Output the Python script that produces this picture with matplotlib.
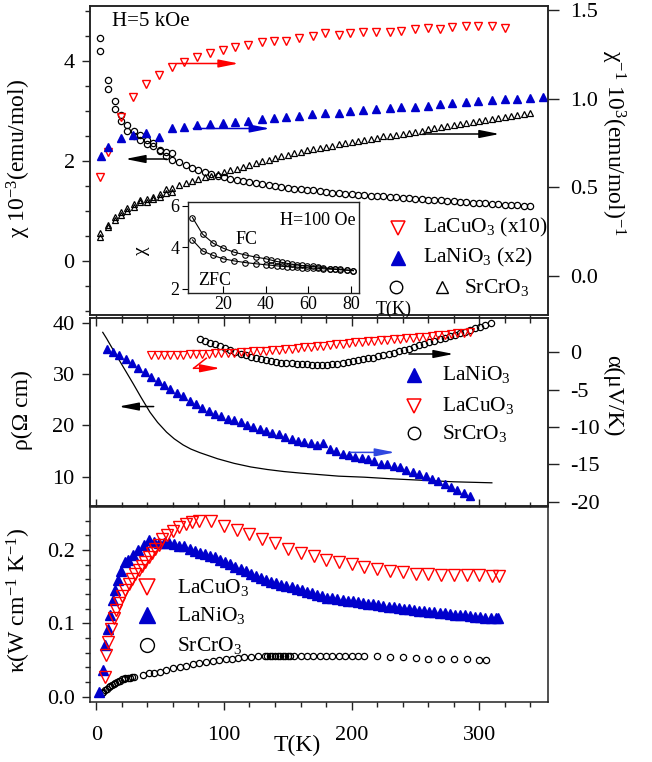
import matplotlib
matplotlib.use('Agg')
import matplotlib.pyplot as plt
from matplotlib.ticker import MultipleLocator, FormatStrFormatter

plt.rcParams['font.family'] = ['Liberation Serif', 'DejaVu Serif']
plt.rcParams['mathtext.fontset'] = 'custom'
plt.rcParams['mathtext.rm'] = 'Liberation Serif'
plt.rcParams['mathtext.it'] = 'Liberation Serif:italic'
plt.rcParams['mathtext.bf'] = 'Liberation Serif:bold'
plt.rcParams['axes.unicode_minus'] = False

RED = '#ff0000'
BLUE = '#0000cc'

# ---------------- top panel: susceptibility ----------------
# SrCrO3 chi (left axis, 10^-3 emu/mol), two branches at low T
chi_T_lo = [3.1, 9.1, 14.3, 19.3, 24.3, 29.2, 34.5, 39.7, 44.4, 49.6, 54.6, 59.3]
chi_a = [4.45, 3.62, 3.19, 2.92, 2.72, 2.60, 2.52, 2.42, 2.35, 2.22, 2.17, 2.15]
chi_b = [4.19, 3.43, 3.03, 2.79, 2.60, 2.49, 2.42, 2.33, 2.29, 2.19, 2.10, 2.02]
chi_T_hi = [65, 70, 75, 80, 85, 90, 95, 100, 105, 110, 115, 120, 125, 130, 135, 140,
            145, 150, 155, 160, 165, 170, 175, 180, 185, 190, 195, 200, 205, 210, 215,
            220, 225, 230, 235, 240, 245, 250, 255, 260, 265, 270, 275, 280, 285, 290,
            295, 300, 305, 310, 315, 320, 325, 330, 335, 340]
chi_hi = [1.97, 1.91, 1.85, 1.81, 1.77, 1.74, 1.70, 1.67, 1.64, 1.62, 1.59, 1.58, 1.56,
          1.54, 1.52, 1.50, 1.48, 1.46, 1.44, 1.43, 1.42, 1.41, 1.39, 1.38, 1.36, 1.35,
          1.34, 1.33, 1.32, 1.31, 1.30, 1.30, 1.29, 1.28, 1.27, 1.26, 1.25, 1.24, 1.23,
          1.22, 1.21, 1.21, 1.20, 1.19, 1.18, 1.17, 1.16, 1.16, 1.15, 1.14, 1.13, 1.12,
          1.12, 1.11, 1.10, 1.09]

# SrCrO3 1/chi (right axis)
inv_T_lo = chi_T_lo
inv_sr_a = [0.240, 0.288, 0.331, 0.359, 0.382, 0.406, 0.429, 0.432, 0.447, 0.461, 0.489, 0.498]
inv_sr_b = [0.220, 0.275, 0.316, 0.344, 0.368, 0.391, 0.415, 0.419, 0.434, 0.447, 0.470, 0.476]
inv_T_hi = chi_T_hi
inv_sr_hi = [0.515, 0.527, 0.537, 0.548, 0.557, 0.566, 0.576, 0.585, 0.596, 0.606, 0.616,
             0.626, 0.636, 0.646, 0.656, 0.666, 0.676, 0.684, 0.693, 0.700, 0.708, 0.715,
             0.722, 0.729, 0.736, 0.743, 0.750, 0.757, 0.763, 0.769, 0.775, 0.781, 0.787,
             0.792, 0.797, 0.803, 0.809, 0.814, 0.820, 0.827, 0.833, 0.839, 0.846, 0.852,
             0.858, 0.864, 0.870, 0.876, 0.882, 0.888, 0.894, 0.899, 0.905, 0.910, 0.914,
             0.918]

# LaCuO3 (x10) 1/chi
cu_T = [3, 9, 19, 29, 39, 49, 59, 69, 79, 89, 99, 109, 119, 130, 139, 149, 159, 170,
        179, 190, 199, 209, 219, 230, 239, 250, 260, 269, 279, 290, 299, 310, 320]
cu_inv = [0.56, 0.70, 0.895, 1.011, 1.081, 1.134, 1.18, 1.209, 1.233, 1.26, 1.275,
          1.293, 1.303, 1.321, 1.325, 1.327, 1.34, 1.355, 1.37, 1.36, 1.372, 1.374,
          1.374, 1.378, 1.384, 1.391, 1.397, 1.391, 1.403, 1.41, 1.41, 1.41, 1.397]

# LaNiO3 (x2) 1/chi
ni_T = [4, 9, 19, 29, 39, 49, 59, 69, 79, 89, 99, 109, 119, 130, 139, 149, 159, 169,
        179, 190, 199, 209, 219, 230, 239, 250, 260, 269, 279, 290, 299, 310, 320, 330,
        340, 350]
ni_inv = [0.679, 0.729, 0.777, 0.795, 0.805, 0.786, 0.833, 0.842, 0.852, 0.857, 0.861,
          0.867, 0.876, 0.886, 0.893, 0.899, 0.904, 0.912, 0.918, 0.921, 0.931, 0.936,
          0.940, 0.946, 0.951, 0.955, 0.959, 0.968, 0.977, 0.983, 0.987, 0.993, 0.997,
          1.000, 1.004, 1.008]

# inset: SrCrO3 at H=100 Oe
ins_T = [5.8, 10.5, 15.5, 20.2, 25.2, 30.3, 35.5, 40.2, 42.5, 45.2, 47.5, 50, 52.5,
         54.6, 57, 59.5, 62.3, 64.5, 67, 70.2, 72.5, 75, 78, 81.1]
ins_fc = [5.43, 4.63, 4.19, 3.95, 3.76, 3.63, 3.52, 3.44, 3.38, 3.31, 3.27, 3.22, 3.18,
          3.15, 3.12, 3.10, 3.07, 3.04, 3.01, 2.97, 2.95, 2.93, 2.90, 2.87]
ins_zfc = [4.35, 3.82, 3.60, 3.44, 3.34, 3.26, 3.20, 3.15, 3.13, 3.10, 3.08, 3.06, 3.05,
           3.04, 3.02, 3.01, 2.99, 2.98, 2.96, 2.94, 2.93, 2.91, 2.89, 2.87]

# ---------------- middle panel: resistivity / thermopower ----------------
rho_T = [5, 8, 11, 15, 19, 24, 29, 35, 42, 48, 55, 61, 68, 74, 81, 95, 108, 121, 134,
         147, 160, 175, 190, 210, 230, 255, 280, 310]
rho = [38.2, 37.0, 35.7, 34.0, 32.3, 30.2, 28.1, 25.5, 22.6, 20.6, 18.7, 17.4, 16.2,
       15.4, 14.7, 13.5, 12.6, 11.9, 11.4, 11.0, 10.7, 10.4, 10.1, 9.9, 9.6, 9.3, 9.0, 8.8]

ni_aT = [8, 13, 18, 23, 28, 33, 38, 43, 48, 53, 58, 63, 68, 73, 78, 83, 88, 93, 98, 103,
         108, 113, 118, 123, 128, 133, 138, 143, 148, 153, 158, 163, 168, 173, 178, 183,
         188, 193, 198, 203, 208, 213, 218, 223, 228, 233, 238, 243, 248, 253, 258, 263,
         268, 273, 278, 283, 288, 293]
ni_alpha = [0.4, 0.1, -0.4, -0.9, -1.5, -2.1, -2.7, -3.3, -3.9, -4.4, -4.9, -5.4, -5.9,
            -6.5, -6.9, -7.4, -7.8, -8.2, -8.5, -8.9, -9.1, -9.4, -9.7, -10.0, -10.3,
            -10.6, -10.8, -11.0, -11.3, -11.6, -11.9, -12.0, -12.2, -12.4, -12.2, -12.9,
            -13.2, -13.6, -13.7, -14.0, -14.1, -14.3, -14.6, -14.9, -15.0, -15.2, -15.4,
            -15.8, -16.0, -16.3, -16.6, -16.9, -17.2, -17.6, -18.0, -18.4, -18.9, -19.3]

cu_aT = [43, 48, 53, 58, 63, 68, 73, 78, 83, 88, 93, 98, 103, 108, 113, 118, 123, 128,
         133, 138, 143, 148, 153, 158, 163, 168, 173, 178, 183, 188, 193, 198, 203, 208,
         213, 218, 223, 228, 233, 238, 243, 248, 253, 258, 263, 268, 273, 278, 283, 288,
         293]
cu_alpha = [-0.36, -0.36, -0.35, -0.35, -0.33, -0.30, -0.28, -0.25, -0.22, -0.18, -0.14,
            -0.10, -0.07, -0.04, 0.02, 0.07, 0.12, 0.17, 0.21, 0.28, 0.35, 0.43, 0.50,
            0.57, 0.65, 0.73, 0.81, 0.90, 0.98, 1.06, 1.15, 1.25, 1.35, 1.42, 1.50, 1.57,
            1.62, 1.66, 1.74, 1.82, 1.88, 1.94, 2.00, 2.08, 2.16, 2.25, 2.34, 2.45, 2.54,
            2.64, 2.76]

sr_aT = [81, 85, 89, 93, 97, 101, 105, 109, 113, 117, 121, 125, 129, 133, 137, 141, 145,
         149, 153, 157, 161, 165, 169, 173, 177, 181, 185, 189, 193, 197, 201, 205, 209,
         213, 217, 221, 225, 229, 233, 237, 241, 245, 249, 253, 257, 261, 265, 269, 273,
         277, 281, 285, 289, 293, 297, 301, 305, 309]
sr_alpha = [1.74, 1.50, 1.30, 1.07, 0.82, 0.53, 0.25, 0.00, -0.20, -0.40, -0.60, -0.78,
            -0.95, -1.10, -1.20, -1.30, -1.37, -1.42, -1.50, -1.55, -1.58, -1.62, -1.66,
            -1.70, -1.70, -1.65, -1.60, -1.55, -1.45, -1.32, -1.18, -1.05, -0.95, -0.82,
            -0.70, -0.52, -0.37, -0.22, -0.05, 0.12, 0.30, 0.50, 0.72, 0.95, 1.15, 1.35,
            1.56, 1.76, 1.97, 2.17, 2.38, 2.58, 2.78, 2.99, 3.20, 3.40, 3.62, 3.90]

# ---------------- bottom panel: thermal conductivity ----------------
cu_kT = [6.5, 7.8, 9.2, 11.7, 13.5, 15.7, 18, 20.1, 22.7, 25.3, 28, 30.5, 33.1, 35.8,
         38.4, 41, 43.6, 46.2, 48.8, 51.4, 55.4, 60, 65, 70.2, 74.9, 80.6, 90, 100.2,
         110.2, 120, 130.2, 140.2, 150.1, 160.3, 170.2, 180.1, 190.3, 200.2, 210.1,
         220.3, 230.2, 240.2, 250.3, 260.2, 270.2, 280.3, 290.3, 300.2, 309.9, 315.6]
cu_kappa = [0.027, 0.057, 0.075, 0.092, 0.107, 0.118, 0.128, 0.137, 0.146, 0.154, 0.161,
            0.167, 0.173, 0.178, 0.184, 0.190, 0.196, 0.202, 0.207, 0.215, 0.221, 0.226,
            0.231, 0.235, 0.238, 0.240, 0.239, 0.233, 0.228, 0.222, 0.215, 0.209, 0.202,
            0.196, 0.192, 0.187, 0.184, 0.181, 0.177, 0.174, 0.171, 0.170, 0.168, 0.167,
            0.166, 0.166, 0.166, 0.166, 0.165, 0.165]

ni_kT = [1.8, 4.9, 7, 8.9, 11, 12.8, 14.9, 16.7, 19.3, 22.2, 25, 29, 33, 37, 41, 45, 49,
         53, 57, 61, 65, 69, 73, 77, 81, 85, 89, 93, 97, 101, 105, 109, 113, 117, 121,
         125, 129, 133, 137, 141, 145, 149, 153, 157, 161, 165, 169, 173, 177, 181, 185,
         189, 193, 197, 201, 205, 209, 213, 217, 221, 225, 229, 233, 237, 241, 245, 249,
         253, 257, 261, 265, 269, 273, 277, 281, 285, 289, 293, 297, 301, 305, 309, 313,
         315]
ni_kappa = [0.007, 0.036, 0.070, 0.093, 0.111, 0.132, 0.146, 0.159, 0.171, 0.184, 0.187,
            0.193, 0.200, 0.207, 0.214, 0.211, 0.209, 0.210, 0.210, 0.208, 0.206, 0.205,
            0.201, 0.199, 0.196, 0.194, 0.192, 0.190, 0.187, 0.184, 0.181, 0.177, 0.174,
            0.171, 0.168, 0.165, 0.162, 0.159, 0.157, 0.155, 0.153, 0.151, 0.149, 0.147,
            0.145, 0.143, 0.141, 0.139, 0.137, 0.135, 0.134, 0.133, 0.132, 0.131, 0.130,
            0.129, 0.128, 0.127, 0.126, 0.125, 0.124, 0.123, 0.122, 0.121, 0.120, 0.119,
            0.118, 0.117, 0.117, 0.116, 0.115, 0.114, 0.114, 0.113, 0.112, 0.111, 0.111,
            0.110, 0.109, 0.109, 0.108, 0.108, 0.107, 0.107]

sr_kT = [4.4, 5.5, 7, 8.3, 9.6, 11, 12.3, 13.6, 14.9, 16.2, 17.5, 18.8, 20.1, 21.4, 22.7,
         24.6, 26.6, 28.2, 29.8, 36.5, 41, 44.9, 49.6, 54.8, 60, 65.8, 70.2, 75.7, 80.6,
         85.9, 91.1, 96.3, 101.6, 106.3, 111.4, 116.1, 121.4, 126.6, 131.8, 134, 136, 138,
         140, 142, 144, 146, 148, 150, 152, 155, 160, 165, 170, 175, 180, 185, 190, 195,
         200, 205, 210, 220.3, 230.2, 240.2, 250.3, 260.2, 270.2, 280.3, 290.3, 300.2,
         305.4]
sr_kappa = [0.005, 0.007, 0.009, 0.011, 0.013, 0.015, 0.016, 0.018, 0.019, 0.020, 0.021,
            0.022, 0.024, 0.024, 0.025, 0.026, 0.026, 0.027, 0.027, 0.030, 0.032, 0.033,
            0.034, 0.036, 0.039, 0.041, 0.042, 0.044, 0.046, 0.048, 0.049, 0.050, 0.051,
            0.052, 0.053, 0.054, 0.054, 0.055, 0.055, 0.055, 0.055, 0.055, 0.055, 0.056,
            0.056, 0.056, 0.056, 0.056, 0.056, 0.056, 0.056, 0.056, 0.056, 0.056, 0.056,
            0.056, 0.056, 0.056, 0.056, 0.056, 0.056, 0.055, 0.054, 0.054, 0.053, 0.052,
            0.052, 0.051, 0.051, 0.050, 0.050]

TICK = 16
LAB = 17
LEG = 15.5


def style(ax):
    for s in ax.spines.values():
        s.set_linewidth(1.1)
        s.set_color('#222222')
    ax.tick_params(which='both', labelsize=TICK, width=1.0, color='#222222')
    ax.tick_params(which='major', length=6)
    ax.tick_params(which='minor', length=3.5)


def arrow(ax, x0, y0, x1, y1, color):
    ax.annotate('', xy=(x1, y1), xytext=(x0, y0),
                arrowprops=dict(arrowstyle='-|>,head_length=1.0,head_width=0.2',
                                color=color, lw=1.1, shrinkA=0, shrinkB=0,
                                mutation_scale=12))


def key(ax, x, y, marker, label=None, tx=None, **kw):
    ax.plot([x], [y], marker=marker, linestyle='none', transform=ax.transAxes,
            clip_on=False, **kw)
    if label is not None:
        ax.text(tx, y, label, transform=ax.transAxes, fontsize=LEG, va='center')


fig = plt.figure(figsize=(6.52, 7.62), dpi=100)
L, W = 90 / 652, 458 / 652
ax1 = fig.add_axes([L, 1 - 315 / 762, W, 309 / 762])
ax1r = ax1.twinx()
ax2 = fig.add_axes([L, 1 - 506 / 762, W, 188 / 762])
ax2r = ax2.twinx()
ax3 = fig.add_axes([L, 1 - 702 / 762, W, 195 / 762])

for ax in (ax1, ax1r, ax2, ax2r, ax3):
    style(ax)
    ax.set_xlim(-5, 354)
    ax.xaxis.set_major_locator(MultipleLocator(100))
    ax.xaxis.set_minor_locator(MultipleLocator(20))

for ax in (ax1, ax2, ax3):
    ax.tick_params(axis='y', which='both', direction='out', right=False, pad=5)
for ax in (ax1r, ax2r):
    ax.tick_params(axis='y', which='both', direction='out', length=8, pad=8)

# ---- top panel ----
ax1.plot(chi_T_lo, chi_a, 'o', mfc='none', mec='k', ms=4.5, mew=0.9)
ax1.plot(chi_T_lo, chi_b, 'o', mfc='none', mec='k', ms=4.5, mew=0.9)
ax1.plot(chi_T_hi, chi_hi, 'o', mfc='none', mec='k', ms=4.5, mew=0.9)
ax1r.plot(inv_T_lo, inv_sr_a, '^', mfc='none', mec='k', ms=4.5, mew=0.9)
ax1r.plot(inv_T_lo, inv_sr_b, '^', mfc='none', mec='k', ms=4.5, mew=0.9)
ax1r.plot(inv_T_hi, inv_sr_hi, '^', mfc='none', mec='k', ms=4.5, mew=0.9)
ax1r.plot(cu_T, cu_inv, 'v', mfc='none', mec=RED, ms=6, mew=1.0)
ax1r.plot(ni_T, ni_inv, '^', color=BLUE, ms=6)

ax1.set_ylim(-1.08, 5.1)
ax1.yaxis.set_major_locator(MultipleLocator(2))
ax1.yaxis.set_minor_locator(MultipleLocator(0.5))
ax1.tick_params(axis='x', which='both', direction='out', top=False, labelbottom=False,
                length=3)
ax1r.set_ylim(-0.22, 1.523)
ax1r.yaxis.set_major_locator(MultipleLocator(0.5))
ax1r.yaxis.set_major_formatter(FormatStrFormatter('%.1f'))

ax1.set_ylabel('χ 10$^{-3}$(emu/mol)', fontsize=LAB)
ax1.yaxis.set_label_coords(-0.124, 0.506)
ax1r.set_ylabel('χ$^{-1}$ 10$^{3}$(emu/mol)$^{-1}$', fontsize=LAB, rotation=-90,
                va='center')
ax1r.yaxis.set_label_coords(1.142, 0.558)

ax1.text(0.132, 0.949, 'H=5 kOe', transform=ax1.transAxes, fontsize=15,
         ha='center', va='center')

arrow(ax1, 63, 3.95, 111.5, 3.95, RED)
arrow(ax1, 76, 2.65, 136, 2.65, BLUE)
arrow(ax1, 55, 2.04, 22.7, 2.04, 'k')
arrow(ax1, 256, 2.54, 316, 2.54, 'k')

key(ax1, 0.673, 0.283, 'v', 'LaCuO$_3$ (x10)', 0.728, mfc='none', mec=RED, ms=10, mew=1.1)
key(ax1, 0.673, 0.186, '^', 'LaNiO$_3$ (x2)', 0.728, color=BLUE, ms=10)
key(ax1, 0.668, 0.090, 'o', mfc='none', mec='k', ms=9, mew=1.0)
key(ax1, 0.768, 0.090, '^', 'SrCrO$_3$', 0.817, mfc='none', mec='k', ms=9, mew=1.0)

# inset
axi = fig.add_axes([188 / 652, 1 - 293 / 762, 171 / 652, 91 / 762])
axi.plot(ins_T, ins_fc, '-o', color='k', mfc='none', ms=4, mew=0.8, lw=0.8)
axi.plot(ins_T, ins_zfc, '-o', color='k', mfc='none', ms=4, mew=0.8, lw=0.8)
axi.set_xlim(3.7, 83.7)
axi.set_ylim(1.79, 6.18)
axi.xaxis.set_major_locator(MultipleLocator(20))
axi.yaxis.set_major_locator(MultipleLocator(2))
for s in axi.spines.values():
    s.set_linewidth(1.0)
    s.set_color('#222222')
axi.tick_params(axis='x', direction='in', labelsize=13, length=5, pad=2)
axi.tick_params(axis='y', direction='out', labelsize=13, length=4, pad=2)
axi.set_ylabel('χ', fontsize=14)
axi.yaxis.set_label_coords(-0.22, 0.47)
axi.text(1.20, -0.176, 'T(K)', transform=axi.transAxes, fontsize=13,
         ha='center', va='center')
axi.text(0.76, 0.80, 'H=100 Oe', transform=axi.transAxes, fontsize=13,
         ha='center', va='center')
axi.text(0.343, 0.593, 'FC', transform=axi.transAxes, fontsize=13,
         ha='center', va='center')
axi.text(0.158, 0.132, 'ZFC', transform=axi.transAxes, fontsize=13,
         ha='center', va='center')

# ---- middle panel ----
ax2.plot(rho_T, rho, '-', color='k', lw=0.9)
ax2r.plot(sr_aT, sr_alpha, 'o', mfc='none', mec='k', ms=4.5, mew=0.9)
ax2r.plot(cu_aT, cu_alpha, 'v', mfc='none', mec=RED, ms=5.5, mew=0.9)
ax2r.plot(ni_aT, ni_alpha, '^', color=BLUE, ms=6)

ax2.set_ylim(4.27, 41.0)
ax2.yaxis.set_major_locator(MultipleLocator(10))
ax2.tick_params(axis='x', which='both', direction='in', top=True, bottom=False,
                labelbottom=False)
ax2r.set_ylim(-20.58, 4.59)
ax2r.yaxis.set_major_locator(MultipleLocator(5))
ax2.set_ylabel('ρ(Ω cm)', fontsize=LAB)
ax2.yaxis.set_label_coords(-0.124, 0.51)
ax2r.set_ylabel('α(μV/K)', fontsize=LAB, rotation=-90, va='center')
ax2r.yaxis.set_label_coords(1.142, 0.585)

arrow(ax2, 44.9, 23.7, 17.5, 23.7, 'k')
ax2r.plot([86.1, 76.2], [-0.8, -2.14], '-', color=RED, lw=1.1)
arrow(ax2r, 76.2, -2.14, 97.1, -2.14, RED)
arrow(ax2r, 199, -13.4, 234, -13.4, '#3048e0')
arrow(ax2r, 245, -0.23, 280, -0.23, 'k')

key(ax2, 0.708, 0.697, '^', 'LaNiO$_3$', 0.768, color=BLUE, ms=10)
key(ax2, 0.708, 0.532, 'v', 'LaCuO$_3$', 0.768, mfc='none', mec=RED, ms=10, mew=1.1)
key(ax2, 0.708, 0.387, 'o', 'SrCrO$_3$', 0.768, mfc='none', mec='k', ms=9, mew=1.0)

# ---- bottom panel ----
ax3.plot(sr_kT, sr_kappa, 'o', mfc='none', mec='k', ms=4.5, mew=0.9)
ax3.plot(ni_kT, ni_kappa, '^', color=BLUE, ms=6.5)
ax3.plot(cu_kT, cu_kappa, 'v', mfc='none', mec=RED, ms=8, mew=1.0)

ax3.set_ylim(-0.0072, 0.2587)
ax3.yaxis.set_major_locator(MultipleLocator(0.1))
ax3.yaxis.set_minor_locator(MultipleLocator(0.02))
ax3.yaxis.set_major_formatter(FormatStrFormatter('%.1f'))
ax3.tick_params(axis='x', which='both', direction='out', pad=11)
ax3.tick_params(axis='x', which='both', top=True, labeltop=False)
ax3.set_ylabel('κ(W cm$^{-1}$ K$^{-1}$)', fontsize=LAB)
ax3.yaxis.set_label_coords(-0.124, 0.523)
ax3.set_xlabel('T(K)', fontsize=LAB)
ax3.xaxis.set_label_coords(0.452, -0.17)

key(ax3, 0.124, 0.588, 'v', 'LaCuO$_3$', 0.189, mfc='none', mec=RED, ms=12, mew=1.1)
key(ax3, 0.124, 0.446, '^', 'LaNiO$_3$', 0.189, color=BLUE, ms=11)
key(ax3, 0.124, 0.292, 'o', 'SrCrO$_3$', 0.189, mfc='none', mec='k', ms=10, mew=1.0)

fig.savefig('out.png', dpi=100)
